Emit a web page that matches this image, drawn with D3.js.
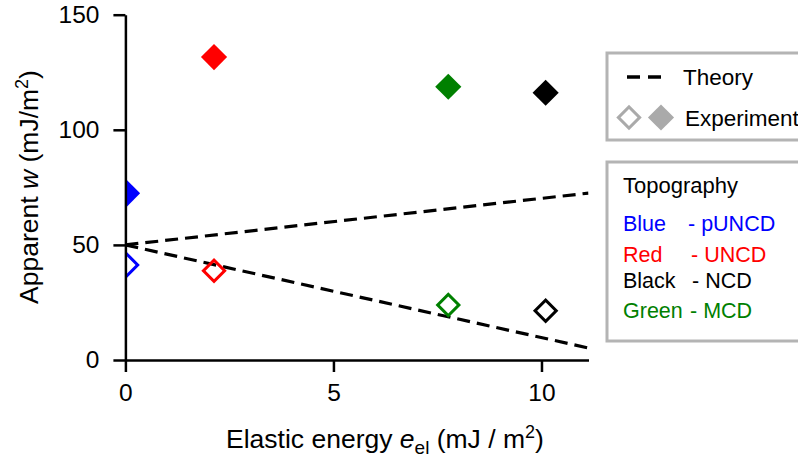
<!DOCTYPE html>
<html>
<head>
<meta charset="utf-8">
<script src="https://cdn.jsdelivr.net/npm/d3@7/dist/d3.min.js"></script>
<style>
  html, body { margin: 0; padding: 0; background: #fff; }
  svg { display: block; font-family: "Liberation Sans", Arial, Helvetica, sans-serif; }
</style>
</head>
<body>
<svg id="chart" width="798" height="461"></svg>
<script>
// Topography samples, their colours and measured apparent work of adhesion
const topography = ["pUNCD", "UNCD", "NCD", "MCD"];
const colourNames = ["Blue", "Red", "Black", "Green"];
const colours = ["#0000ff", "#ff0000", "#000000", "#008000"];
const elasticEnergy = [0.04, 2.13, 10.1, 7.76];
const wFilled = [72.4, 131.6, 116.1, 118.7];
const wOpen = [41.3, 38.8, 21.4, 23.9];

// Theory lines (end points)
const theoryE = [0, 11.13];
const theoryUpper = [50, 72.5];
const theoryLower = [50, 5.2];

// Axis ticks
const xTicks = [0, 5, 10];
const yTicks = [0, 50, 100, 150];

const svg = d3.select("#chart");
const plotLeft = 125.4, plotRight = 588.5, plotTop = 14.7, plotBottom = 360;

const x = d3.scaleLinear().domain([0, 11.13]).range([plotLeft, plotRight]);
const y = d3.scaleLinear().domain([0, 150]).range([plotBottom, plotTop]);

svg.append("defs").append("clipPath").attr("id", "plotClip")
  .append("rect").attr("x", plotLeft).attr("y", 0)
  .attr("width", plotRight - plotLeft).attr("height", plotBottom + 5);

const plot = svg.append("g").attr("clip-path", "url(#plotClip)");

// Theory dashed lines
const line = d3.line().x(d => x(d[0])).y(d => y(d[1]));
[theoryUpper, theoryLower].forEach(vals => {
  plot.append("path")
    .datum(theoryE.map((e, i) => [e, vals[i]]))
    .attr("d", line)
    .attr("fill", "none")
    .attr("stroke", "#000")
    .attr("stroke-width", 3.2)
    .attr("stroke-dasharray", "13,7");
});

// Experiment markers (squares turned 45° into diamonds)
const filledPath = d3.symbol().type(d3.symbolSquare).size(18.5 * 18.5)();
const openPath = d3.symbol().type(d3.symbolSquare).size(15 * 15)();

topography.forEach((t, i) => {
  plot.append("path")
    .attr("d", filledPath)
    .attr("transform", `translate(${x(elasticEnergy[i])},${y(wFilled[i])}) rotate(45)`)
    .attr("fill", colours[i]);
  plot.append("path")
    .attr("d", openPath)
    .attr("transform", `translate(${x(elasticEnergy[i])},${y(wOpen[i])}) rotate(45)`)
    .attr("fill", "none")
    .attr("stroke", colours[i])
    .attr("stroke-width", 3);
});

// Axes
const xAxis = svg.append("g")
  .attr("transform", `translate(0,${plotBottom})`)
  .call(d3.axisBottom(x).tickValues(xTicks).tickFormat(d3.format("d"))
    .tickSize(12).tickSizeOuter(0).tickPadding(12));
const yAxis = svg.append("g")
  .attr("transform", `translate(${plotLeft},0)`)
  .call(d3.axisLeft(y).tickValues(yTicks).tickFormat(d3.format("d"))
    .tickSize(12).tickSizeOuter(0).tickPadding(14));

[xAxis, yAxis].forEach(g => {
  g.select(".domain").attr("stroke", "#000").attr("stroke-width", 2.5);
  g.selectAll(".tick line").attr("stroke", "#000").attr("stroke-width", 2.5);
  g.selectAll(".tick text").attr("fill", "#000").style("font-size", "24.5px")
    .style("font-family", "'Liberation Sans', Arial, sans-serif");
});

// Axis titles
const yTitle = svg.append("text")
  .attr("transform", "translate(38,187) rotate(-90)")
  .attr("text-anchor", "middle")
  .style("font-size", "26.5px");
yTitle.append("tspan").text("Apparent ");
yTitle.append("tspan").style("font-style", "italic").text("w");
yTitle.append("tspan").text(" (mJ/m");
yTitle.append("tspan").attr("dy", -10).style("font-size", "18px").text("2");
yTitle.append("tspan").attr("dy", 10).text(")");

const xTitle = svg.append("text")
  .attr("x", 226).attr("y", 448)
  .style("font-size", "26.5px");
xTitle.append("tspan").text("Elastic energy ");
xTitle.append("tspan").style("font-style", "italic").text("e");
xTitle.append("tspan").attr("dy", 6).style("font-size", "19px").text("el");
xTitle.append("tspan").attr("dy", -6).text(" (mJ / m");
xTitle.append("tspan").attr("dy", -10).style("font-size", "18px").text("2");
xTitle.append("tspan").attr("dy", 10).text(")");

// Legend: theory / experiment
const legendGrey = "#aaaaaa";
svg.append("rect").attr("x", 607).attr("y", 53).attr("width", 220).attr("height", 87)
  .attr("fill", "#fff").attr("stroke", "#b4b4b4").attr("stroke-width", 3);
svg.append("line").attr("x1", 627).attr("x2", 662).attr("y1", 77).attr("y2", 77)
  .attr("stroke", "#000").attr("stroke-width", 3.5).attr("stroke-dasharray", "13,8");
svg.append("text").attr("x", 683).attr("y", 85).style("font-size", "22.5px").text("Theory");
svg.append("path").attr("d", openPath)
  .attr("transform", "translate(629,117.5) rotate(45)")
  .attr("fill", "none").attr("stroke", legendGrey).attr("stroke-width", 3);
svg.append("path").attr("d", filledPath)
  .attr("transform", "translate(661,117.5) rotate(45)")
  .attr("fill", legendGrey);
svg.append("text").attr("x", 685).attr("y", 126).style("font-size", "22.5px").text("Experiment");

// Legend: topography colour key
svg.append("rect").attr("x", 607).attr("y", 162).attr("width", 220).attr("height", 179)
  .attr("fill", "#fff").attr("stroke", "#b4b4b4").attr("stroke-width", 3);
svg.append("text").attr("x", 623).attr("y", 193).style("font-size", "22px").text("Topography");
const keyDashX = [688, 691, 692, 690];
const keyBaseline = [231, 262, 288, 318];
topography.forEach((t, i) => {
  svg.append("text").attr("x", 623).attr("y", keyBaseline[i]).attr("fill", colours[i])
    .style("font-size", "21.5px").text(colourNames[i]);
  svg.append("text").attr("x", keyDashX[i]).attr("y", keyBaseline[i]).attr("fill", colours[i])
    .style("font-size", "21.5px").text("- " + t);
});
</script>
</body>
</html>
